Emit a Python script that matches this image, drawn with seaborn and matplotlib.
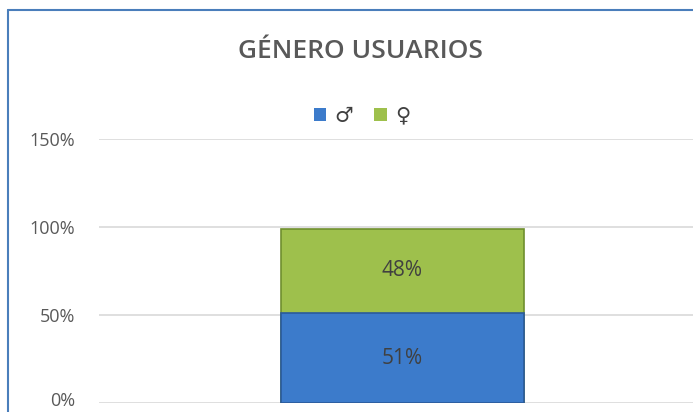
import pandas as pd
import numpy as np
import matplotlib.pyplot as plt
import matplotlib.patches as mpatches
import matplotlib.transforms as mtransforms
from matplotlib.lines import Line2D
import seaborn as sns

# Data
category = ['Usuarios']
series = ['♂', '♀']
values = [0.51, 0.48]
colors = ['#3c7bcb', '#9ec04c']
yticks = [0, 0.5, 1.0, 1.5]
ytick_labels = ['0%', '50%', '100%', '150%']

sns.set_style('white')
plt.rcParams['font.family'] = ['Open Sans', 'DejaVu Sans']

fig = plt.figure(figsize=(6.93, 4.12), dpi=100)
ax = fig.add_axes([99 / 693, 9 / 412, 607 / 693, 264 / 412])

# stacked bar: draw totals first, then lower segment on top
totals = np.cumsum(values)
df_top = pd.DataFrame({'cat': category, 'val': [totals[1]]})
df_bot = pd.DataFrame({'cat': category, 'val': [values[0]]})
sns.barplot(data=df_top, x='cat', y='val', color=colors[1], width=0.4, ax=ax,
            saturation=1, edgecolor='#6f8f2e', linewidth=1.2)
sns.barplot(data=df_bot, x='cat', y='val', color=colors[0], width=0.4, ax=ax,
            saturation=1, edgecolor='#2a5a9a', linewidth=1.2)

# data labels
ax.text(0, values[0] / 2, f'{values[0]:.0%}', ha='center', va='center',
        fontsize=15, color='#404040')
ax.text(0, values[0] + values[1] / 2, f'{values[1]:.0%}', ha='center', va='center',
        fontsize=15, color='#404040')

ax.set_xlim(-0.5, 0.5)
ax.set_ylim(0, 1.5)
ax.set_yticks(yticks)
ax.set_yticklabels(ytick_labels, color='#595959', fontsize=13)
ax.tick_params(axis='y', length=0, pad=17)
ax.set_xticks([])
ax.set_xlabel('')
ax.set_ylabel('')
ax.yaxis.grid(True, color='#d9d9d9', linewidth=1.2)
ax.set_axisbelow(True)
sns.despine(ax=ax, left=True, bottom=True)

# nudge the bottom tick label up a little so it stays inside the image
lab0 = ax.get_yticklabels()[0]
lab0.set_transform(lab0.get_transform() + mtransforms.ScaledTranslation(0, 3 / 72, fig.dpi_scale_trans))

# title and legend
fig.text(360 / 693, 1 - 51 / 412, 'GÉNERO USUARIOS', ha='center', va='center',
         fontsize=19, fontweight='semibold', color='#595959')
handles = [mpatches.Patch(facecolor=c, edgecolor='none', label=s) for c, s in zip(colors, series)]
fig.legend(handles=handles, loc='center', bbox_to_anchor=(362 / 693, 1 - 116 / 412),
           ncol=2, frameon=False, fontsize=15, handlelength=0.6, handleheight=0.6,
           handletextpad=0.4, columnspacing=1.0, labelcolor='#404040')

# chart-area border (left and top edges visible)
border = '#4a7ebb'
fig.add_artist(Line2D([8 / 693, 8 / 693], [0, 1 - 10 / 412], color=border, linewidth=1.5,
                      transform=fig.transFigure))
fig.add_artist(Line2D([8 / 693, 1], [1 - 10 / 412, 1 - 10 / 412], color=border, linewidth=1.5,
                      transform=fig.transFigure))

plt.savefig('out.png', dpi=100)
